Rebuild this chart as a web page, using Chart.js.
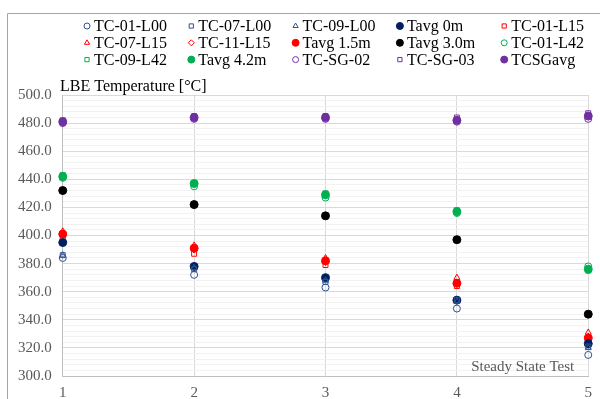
<!DOCTYPE html>
<html lang="en">
<head>
  <meta charset="UTF-8">
  <title>LBE Temperature - Steady State Test</title>
  <script src="https://cdn.jsdelivr.net/npm/chart.js"></script>
  <style>
    html, body { margin: 0; padding: 0; background: #fff; }
    #wrap { width: 600px; height: 399px; }
  </style>
</head>
<body>
<div id="wrap"><canvas id="tempChart" width="600" height="399"></canvas></div>

<script>
  // 数据
  const tests = [1, 2, 3, 4, 5];
  const yTicks = [300, 320, 340, 360, 380, 400, 420, 440, 460, 480, 500];

  const tc01L00 = [384, 372, 363, 348, 315];
  const tc07L00 = [386, 376, 367, 354, 321];
  const tc09L00 = [386, 377, 368, 353, 320];
  const tavg0   = [395, 378, 370, 354, 323];
  const tc01L15 = [399, 387, 379, 364, 325];
  const tc07L15 = [403, 393, 384, 370, 331];
  const tc11L15 = [401, 390, 381, 366, 328];
  const tavg15  = [401, 391, 382, 366, 327];
  const tavg30  = [432, 422, 414, 397, 344];
  const tc01L42 = [441, 435, 427, 416, 378];
  const tc09L42 = [443, 437, 430, 418, 375];
  const tavg42  = [442, 437, 429, 417, 376];
  const tcSG02  = [480, 483, 483, 481, 483];
  const tcSG03  = [482, 485, 485, 484, 487];
  const tcSGavg = [481, 484, 484, 482, 485];

  const BLUE = '#2f528f', NAVY = '#002060', RED = '#ff0000', BLACK = '#000000',
        GREEN = '#00b050', PURPLE = '#7030a0';

  // [label, values, color, pointStyle, filled]
  const series = [
    ['TC-01-L00', tc01L00, BLUE, 'circle', false],
    ['TC-07-L00', tc07L00, BLUE, 'rect', false],
    ['TC-09-L00', tc09L00, BLUE, 'triangle', false],
    ['Tavg 0m', tavg0, NAVY, 'circle', true],
    ['TC-01-L15', tc01L15, RED, 'rect', false],
    ['TC-07-L15', tc07L15, RED, 'triangle', false],
    ['TC-11-L15', tc11L15, RED, 'rectRot', false],
    ['Tavg 1.5m', tavg15, RED, 'circle', true],
    ['Tavg 3.0m', tavg30, BLACK, 'circle', true],
    ['TC-01-L42', tc01L42, GREEN, 'circle', false],
    ['TC-09-L42', tc09L42, GREEN, 'rect', false],
    ['Tavg 4.2m', tavg42, GREEN, 'circle', true],
    ['TC-SG-02', tcSG02, PURPLE, 'circle', false],
    ['TC-SG-03', tcSG03, PURPLE, 'rect', false],
    ['TCSGavg', tcSGavg, PURPLE, 'circle', true]
  ];

  const datasets = series.map(([label, values, color, style, filled]) => ({
    label: label,
    data: values.map((v, i) => ({ x: tests[i], y: v })),
    pointStyle: style,
    pointRadius: filled ? 4 : 3.5,
    pointBorderWidth: 1,
    borderColor: color,
    backgroundColor: filled ? color : 'rgba(255,255,255,0)',
    clip: false
  }));

  const SERIF = '"Liberation Serif", "Times New Roman", serif';

  // 外框、图例、标题文字
  const decorPlugin = {
    id: 'decor',
    beforeDraw(chart) {
      const ctx = chart.ctx;
      ctx.save();
      ctx.strokeStyle = '#a6a6a6';
      ctx.lineWidth = 1;
      ctx.beginPath();
      ctx.moveTo(7.5, 420);
      ctx.lineTo(7.5, 13.5);
      ctx.lineTo(620, 13.5);
      ctx.stroke();
      ctx.restore();
    },
    afterDraw(chart) {
      const ctx = chart.ctx;
      const area = chart.chartArea;
      ctx.save();
      // 图例 5 列 x 3 行
      ctx.font = '16px ' + SERIF;
      ctx.textBaseline = 'middle';
      ctx.textAlign = 'left';
      chart.data.datasets.forEach((ds, i) => {
        const cx = 87 + (i % 5) * 104.3;
        const cy = 26 + Math.floor(i / 5) * 16.8;
        ctx.strokeStyle = ds.borderColor;
        ctx.fillStyle = ds.backgroundColor;
        Chart.helpers.drawPoint(ctx, {
          pointStyle: ds.pointStyle, rotation: 0,
          radius: ds.pointRadius - 0.5, borderWidth: 1
        }, cx, cy);
        ctx.fillStyle = '#000';
        ctx.fillText(ds.label, cx + 7, cy + 1);
      });
      // 轴标题
      ctx.fillStyle = '#000';
      ctx.textBaseline = 'alphabetic';
      ctx.fillText('LBE Temperature [°C]', 60, 91);
      // 注释
      ctx.fillStyle = '#595959';
      ctx.textAlign = 'right';
      ctx.font = '15px ' + SERIF;
      ctx.fillText('Steady State Test', area.right - 14, area.bottom - 5);
      ctx.restore();
    }
  };

  new Chart(document.getElementById('tempChart'), {
    type: 'scatter',
    data: { datasets: datasets },
    options: {
      responsive: false,
      animation: false,
      layout: { padding: { top: 95, left: 7, right: -2, bottom: -11 } },
      plugins: {
        legend: { display: false },
        tooltip: { enabled: false }
      },
      scales: {
        x: {
          type: 'linear',
          min: 1,
          max: 5,
          ticks: {
            stepSize: 1,
            color: '#595959',
            font: { family: SERIF, size: 15 },
            padding: 8
          },
          grid: { color: '#d9d9d9', drawTicks: false },
          border: { color: '#bfbfbf' }
        },
        y: {
          min: yTicks[0],
          max: yTicks[yTicks.length - 1],
          ticks: {
            stepSize: 4,
            autoSkip: false,
            color: '#595959',
            font: { family: SERIF, size: 15 },
            padding: 11,
            callback: v => yTicks.includes(v) ? v.toFixed(1) : ''
          },
          grid: {
            drawTicks: false,
            color: c => yTicks.includes(c.tick.value) ? '#d9d9d9' : '#f2f2f2'
          },
          border: { color: '#bfbfbf' }
        }
      }
    },
    plugins: [decorPlugin]
  });
</script>
</body>
</html>
